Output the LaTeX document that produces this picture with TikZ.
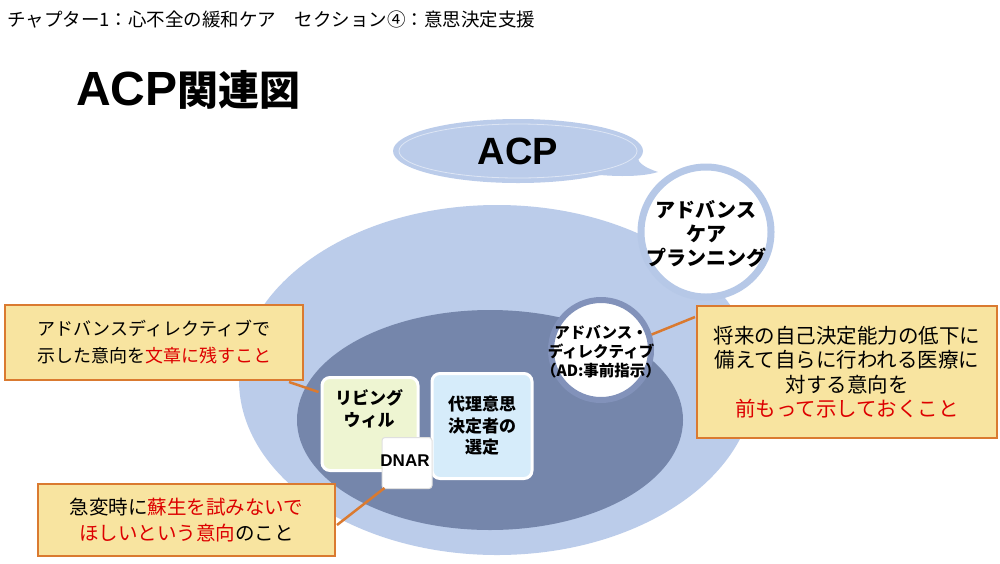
\documentclass[tikz,border=0pt]{standalone}
\usepackage{fontspec}
\setmainfont{Noto Sans CJK JP}
\newfontfamily\lat{Liberation Sans}
\usetikzlibrary{calc,shapes.geometric}
\definecolor{lblue}{HTML}{BBCCEA}
\definecolor{dblue}{HTML}{7586AB}
\definecolor{ringd}{HTML}{8292BA}
\definecolor{ringl}{HTML}{B6C8E7}
\definecolor{yfill}{HTML}{F8E4A0}
\definecolor{oline}{HTML}{DA7A30}
\definecolor{redt}{HTML}{DD0000}
\definecolor{lwgreen}{HTML}{EEF5D2}
\definecolor{pcyan}{HTML}{D6ECFA}
\tikzset{
  ybox/.style={draw=oline, line width=2pt, fill=yfill, align=center, inner sep=0pt},
  conn/.style={draw=oline, line width=2.5pt},
  softbox/.style={draw=white, line width=3pt, rounded corners=8pt, inner sep=0pt, align=center},
  txt/.style={align=center, inner sep=0pt}
}
\begin{document}
\begin{tikzpicture}[x=1pt,y=-1pt]
\useasboundingbox (0,0) rectangle (1000,563);
\fill[white] (0,0) rectangle (1000,563);

% header and title
\node[anchor=west, inner sep=0pt, font=\fontsize{18.5}{20}\selectfont] (hdr) at (7,20)
  {チャプター1：心不全の緩和ケア　セクション④：意思決定支援};
\node[anchor=west, inner sep=0pt] (title) at (76,90)
  {{\lat\bfseries\fontsize{48}{50}\selectfont ACP}{\bfseries\fontsize{41}{45}\selectfont 関連図}};

% large ellipses
\fill[lblue] (497,380) ellipse [x radius=258, y radius=175];
\fill[dblue] (490,420) ellipse [x radius=193, y radius=110];

% speech bubble
\fill[lblue] (600,175) .. controls (625,177) and (645,176) .. (658,172)
  .. controls (646,168) and (639,164) .. (637,157) -- cycle;
\node[ellipse, fill=lblue, minimum width=250pt, minimum height=64pt, inner sep=0pt,
  font=\lat\bfseries\fontsize{38}{40}\selectfont] (bubble) at (518,151) {ACP};
\draw[white, opacity=.5, line width=0.8pt] (bubble.center) ellipse [x radius=119, y radius=27];

% ACP circle
\node[circle, fill=white, draw=ringl, line width=7pt, minimum size=130pt, inner sep=0pt] (acp) at (706,232) {};
\node[txt, font=\bfseries\fontsize{20}{24}\selectfont] (acpt) at (706,234) {アドバンス\\ケア\\プランニング};

% AD circle
\node[circle, fill=white, draw=ringd, line width=6pt, minimum size=100pt, inner sep=0pt] (ad) at (601,350) {};
\node[txt, font=\bfseries\fontsize{15.5}{19}\selectfont] (adt) at (601,352) {アドバンス・\\ディレクティブ\\（AD:事前指示）};

% inner boxes
\node[softbox, fill=lwgreen, minimum width=96pt, minimum height=93pt] (lw) at (370,424) {};
\node[txt, font=\bfseries\fontsize{17}{22}\selectfont] (lwt) at (369,409) {リビング\\ウィル};
\node[softbox, fill=pcyan, minimum width=100pt, minimum height=105pt,
  font=\bfseries\fontsize{17}{21.5}\selectfont] (proxy) at (482,426)
  {代理意思\\決定者の\\選定};
\node[fill=white, draw=gray!25, line width=1pt, rounded corners=3pt, minimum width=50pt, minimum height=51pt, inner sep=0pt] (dnar) at (407,463) {};
\node[txt, font=\lat\bfseries\fontsize{17}{17}\selectfont] (dnart) at (405,461) {DNAR};

% yellow boxes
\node[ybox, minimum width=298pt, minimum height=75pt, font=\fontsize{18}{27}\selectfont] (boxA) at (154,342.5)
  {アドバンスディレクティブで\\示した意向を\textcolor{redt}{文章に残すこと}};
\node[ybox, minimum width=297pt, minimum height=72pt, font=\fontsize{19.5}{26}\selectfont] (boxB) at (186.5,520)
  {急変時に\textcolor{redt}{蘇生を試みないで}\\\textcolor{redt}{ほしいという意向}のこと};
\node[ybox, minimum width=300pt, minimum height=132pt, font=\fontsize{20.5}{24.5}\selectfont] (boxC) at (847,372)
  {将来の自己決定能力の低下に\\備えて自らに行われる医療に\\対する意向を\\\textcolor{redt}{前もって示しておくこと}};

% connectors
\draw[conn] ($(boxA.south east)+(-15,1)$) -- ($(lw.north west)+(-2,16)$);
\draw[conn] ($(boxB.east)+(1,5)$) -- ($(dnar.south west)+(3,-1)$);
\draw[conn] ($(boxC.north west)+(-1,12)$) -- (ad.17);
\end{tikzpicture}
\end{document}
